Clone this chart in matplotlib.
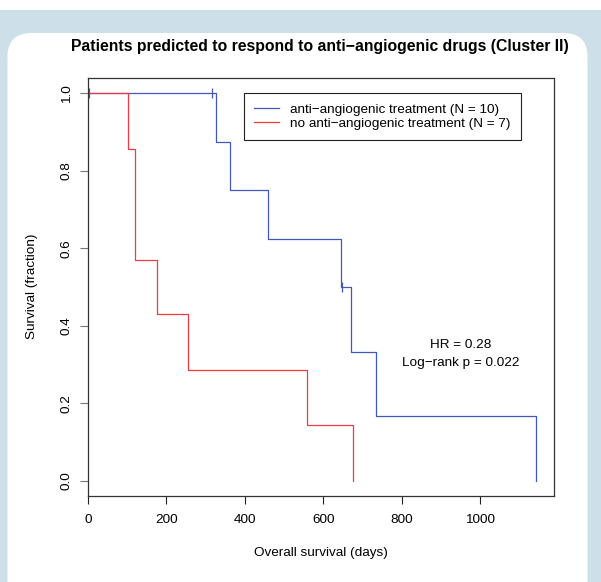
import matplotlib.pyplot as plt
from matplotlib.patches import FancyBboxPatch

plt.rcParams['font.family'] = ['Liberation Sans', 'DejaVu Sans']

# Kaplan-Meier curves (days, survival fraction)
treat_times = [0, 327, 361, 460, 644, 671, 734, 1141]
treat_surv = [1.0, 0.875, 0.75, 0.625, 0.5, 0.333, 0.167, 0.0]
treat_cens_times = [3, 315, 648]
treat_cens_surv = [1.0, 1.0, 0.5]

ctrl_times = [0, 102, 119, 121, 177, 254, 558, 676]
ctrl_surv = [1.0, 0.857, 0.714, 0.571, 0.429, 0.286, 0.143, 0.0]

labels = ['anti\u2212angiogenic treatment (N = 10)',
          'no anti\u2212angiogenic treatment (N = 7)']
x_ticks = [0, 200, 400, 600, 800, 1000]
y_ticks = [0.0, 0.2, 0.4, 0.6, 0.8, 1.0]

blue = '#4358bd'
red = '#ee3b45'
fs = 9.7

fig = plt.figure(figsize=(6.01, 5.82), dpi=100)

# background panels in pixel coordinates
bg = fig.add_axes([0, 0, 1, 1], zorder=0)
bg.set_xlim(0, 601)
bg.set_ylim(582, 0)
bg.axis('off')
bg.add_patch(FancyBboxPatch((-30, 10), 661, 620,
                            boxstyle='round,pad=0,rounding_size=30',
                            fc='#cddfe9', ec='none'))
bg.add_patch(FancyBboxPatch((7.5, 33), 580, 600,
                            boxstyle='round,pad=0,rounding_size=24',
                            fc='white', ec='none'))

ax = fig.add_axes([88 / 601, 1 - 496 / 582, 466 / 601, 418 / 582], zorder=1)
ax.set_facecolor('white')

ax.step(treat_times, treat_surv, where='post', color=blue, lw=0.9, label=labels[0])
ax.step(ctrl_times, ctrl_surv, where='post', color=red, lw=0.9, label=labels[1])
ax.plot(treat_cens_times, treat_cens_surv, ls='none', marker='|', ms=7, mew=0.9, color=blue)

ax.set_xlim(0, 1188)
ax.set_ylim(-0.04, 1.04)
ax.set_xticks(x_ticks)
ax.set_xticklabels([str(t) for t in x_ticks], fontsize=fs)
ax.set_yticks(y_ticks)
ax.set_yticklabels(['%.1f' % t for t in y_ticks], fontsize=fs, rotation=90, va='center')
ax.tick_params(axis='x', length=5.8, width=0.8, pad=7, color='#222222')
ax.tick_params(axis='y', length=5.8, width=0.8, pad=5, color='#777777')
for s in ax.spines.values():
    s.set_linewidth(0.9)
    s.set_color('#333333')

leg = ax.legend(loc='upper left', bbox_to_anchor=(0.335, 0.964), fontsize=fs,
                frameon=True, fancybox=False, framealpha=1, edgecolor='#222222',
                handlelength=1.85, handletextpad=0.8, labelspacing=0.12,
                borderpad=0.75, borderaxespad=0)
leg.get_frame().set_linewidth(0.8)

ax.text(950, 0.35, 'HR = 0.28', ha='center', va='center', fontsize=fs)
ax.text(950, 0.303, 'Log\u2212rank p = 0.022', ha='center', va='center', fontsize=fs)

fig.text(320 / 601, 1 - 47 / 582,
         'Patients predicted to respond to anti\u2212angiogenic drugs (Cluster II)',
         ha='center', va='center', fontsize=11.3, fontweight='bold')
fig.text(321 / 601, 1 - 553 / 582, 'Overall survival (days)',
         ha='center', va='center', fontsize=fs)
fig.text(32 / 601, 1 - 286 / 582, 'Survival (fraction)',
         ha='center', va='center', fontsize=fs, rotation=90)

fig.savefig('out.png', dpi=100)
